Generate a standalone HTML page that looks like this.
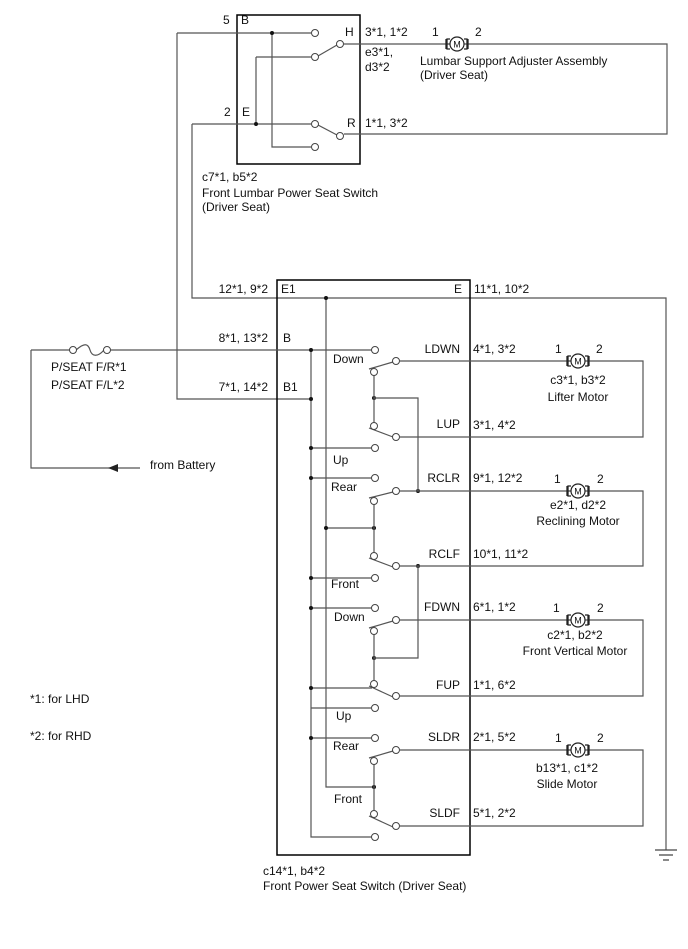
<!DOCTYPE html>
<html><head><style>
html,body{margin:0;padding:0;background:#fff;}
svg{display:block;font-family:"Liberation Sans",sans-serif;font-size:12px;}
.w{stroke:#555;stroke-width:1.2;fill:none;}
.b{stroke:#000;stroke-width:1.5;fill:none;}
.c{stroke:#444;stroke-width:1;fill:#fff;}
text{fill:#111;dominant-baseline:middle;}
.d{fill:#111;}
</style></head><body>
<svg width="688" height="949" viewBox="0 0 688 949">
<defs>
<g id="mot">
<line class="w" x1="-11" y1="0" x2="-7" y2="0"/>
<path d="M-7,-5 h-3 v10 h3 M-11,-5 v10 M7,-5 h3 v10 h-3 M11,-5 v10" stroke="#222" stroke-width="1.3" fill="none"/>
<circle cx="0" cy="0" r="7" fill="#fff" stroke="#222" stroke-width="1.2"/>
</g>
</defs>

<rect class="b" x="237" y="15" width="123" height="149"/>
<path class="w" d="M177,33 H311 M272,33 V147 H311 M256,57 H311 M256,57 V124 M192,124 H311"/>
<path class="w" d="M177,33 V399 H311 M192,124 V298 H666 V850"/>
<path class="w" d="M318,56 L337,45 M318,125 L337,135"/>
<path class="w" d="M344,44 H667 V134 H344"/>
<circle class="c" cx="315" cy="33" r="3.5"/><circle class="c" cx="315" cy="57" r="3.5"/>
<circle class="c" cx="340" cy="44" r="3.5"/><circle class="c" cx="315" cy="124" r="3.5"/>
<circle class="c" cx="340" cy="136" r="3.5"/><circle class="c" cx="315" cy="147" r="3.5"/>
<circle class="d" cx="272" cy="33" r="2"/><circle class="d" cx="256" cy="124" r="2"/>
<use href="#mot" x="457" y="44"/><text x="457" y="45" text-anchor="middle" font-size="9">M</text>
<text x="223" y="21">5</text><text x="241" y="21">B</text>
<text x="345" y="33">H</text><text x="365" y="33">3*1, 1*2</text>
<text x="365" y="53">e3*1,</text><text x="365" y="68">d3*2</text>
<text x="432" y="33">1</text><text x="475" y="33">2</text>
<text x="420" y="62">Lumbar Support Adjuster Assembly</text>
<text x="420" y="76">(Driver Seat)</text>
<text x="224" y="113">2</text><text x="242" y="113">E</text>
<text x="347" y="124">R</text><text x="365" y="124">1*1, 3*2</text>
<text x="202" y="178">c7*1, b5*2</text>
<text x="202" y="194">Front Lumbar Power Seat Switch</text>
<text x="202" y="208">(Driver Seat)</text>

<rect class="b" x="277" y="280" width="193" height="575"/>
<text x="268" y="290" text-anchor="end">12*1, 9*2</text><text x="281" y="290">E1</text>
<text x="454" y="290">E</text><text x="474" y="290">11*1, 10*2</text>
<text x="268" y="339" text-anchor="end">8*1, 13*2</text><text x="283" y="339">B</text>
<text x="268" y="388" text-anchor="end">7*1, 14*2</text><text x="283" y="388">B1</text>

<path class="w" d="M31,350 H70 M110,350 H372 M31,350 V468 H140"/>
<path class="w" d="M76,350 C84,343 88,343 90,350 S98,357 104,350"/>
<circle class="c" cx="73" cy="350" r="3.5"/><circle class="c" cx="107" cy="350" r="3.5"/>
<path d="M108,468 L118,464 L118,472 Z" fill="#222"/>
<text x="51" y="368">P/SEAT F/R*1</text><text x="51" y="386">P/SEAT F/L*2</text>
<text x="150" y="466">from Battery</text>

<path class="w" d="M326,298 V787 H374 M326,528 H374 M311,350 V837 H372"/>
<path class="w" d="M311,448 H372 M311,478 H372 M311,578 H372 M311,608 H372 M311,688 H372 M311,738 H372"/>
<g class="d">
<circle cx="326" cy="298" r="2"/><circle cx="311" cy="350" r="2"/><circle cx="311" cy="399" r="2"/>
<circle cx="311" cy="448" r="2"/><circle cx="311" cy="478" r="2"/><circle cx="311" cy="578" r="2"/>
<circle cx="311" cy="608" r="2"/><circle cx="311" cy="688" r="2"/><circle cx="311" cy="738" r="2"/>
<circle cx="326" cy="528" r="2"/><circle cx="374" cy="528" r="2"/><circle cx="374" cy="787" r="2"/>
<circle cx="374" cy="398" r="2"/><circle cx="418" cy="491" r="2"/><circle cx="418" cy="566" r="2"/>
<circle cx="374" cy="658" r="2"/>
</g>
<path class="w" d="M374,372 V426 M374,398 H418 V491 M374,501 V556 M418,566 V658 H374 M374,631 V684 M374,761 V814"/>
<path class="w" d="M369,369 L393,362 M369,428 L393,437 M369,498 L393,492 M369,558 L393,567 M369,628 L393,621 M369,686 L393,697 M369,758 L393,751 M369,816 L393,827"/>
<path class="w" d="M400,361 H643 V437 H400 M400,491 H643 V566 H400 M400,620 H643 V696 H400 M400,750 H643 V826 H400"/>
<g>
<circle class="c" cx="375" cy="350" r="3.5"/><circle class="c" cx="396" cy="361" r="3.5"/><circle class="c" cx="374" cy="372" r="3.5"/>
<circle class="c" cx="374" cy="426" r="3.5"/><circle class="c" cx="396" cy="437" r="3.5"/>
<circle class="c" cx="375" cy="448" r="3.5"/><circle class="c" cx="375" cy="478" r="3.5"/>
<circle class="c" cx="396" cy="491" r="3.5"/><circle class="c" cx="374" cy="501" r="3.5"/>
<circle class="c" cx="374" cy="556" r="3.5"/><circle class="c" cx="396" cy="566" r="3.5"/>
<circle class="c" cx="375" cy="578" r="3.5"/><circle class="c" cx="375" cy="608" r="3.5"/>
<circle class="c" cx="396" cy="620" r="3.5"/><circle class="c" cx="374" cy="631" r="3.5"/>
<circle class="c" cx="374" cy="684" r="3.5"/><circle class="c" cx="396" cy="696" r="3.5"/>
<circle class="c" cx="375" cy="708" r="3.5"/><circle class="c" cx="375" cy="738" r="3.5"/>
<circle class="c" cx="396" cy="750" r="3.5"/><circle class="c" cx="374" cy="761" r="3.5"/>
<circle class="c" cx="374" cy="814" r="3.5"/><circle class="c" cx="396" cy="826" r="3.5"/>
<circle class="c" cx="375" cy="837" r="3.5"/>
</g>
<path class="w" d="M311,708 H372"/>
<text x="333" y="360">Down</text><text x="333" y="461">Up</text><text x="331" y="488">Rear</text>
<text x="331" y="585">Front</text><text x="334" y="618">Down</text><text x="336" y="717">Up</text>
<text x="333" y="747">Rear</text><text x="334" y="800">Front</text>
<text x="460" y="350" text-anchor="end">LDWN</text><text x="473" y="350">4*1, 3*2</text>
<text x="460" y="425" text-anchor="end">LUP</text><text x="473" y="426">3*1, 4*2</text>
<text x="460" y="479" text-anchor="end">RCLR</text><text x="473" y="479">9*1, 12*2</text>
<text x="460" y="555" text-anchor="end">RCLF</text><text x="473" y="555">10*1, 11*2</text>
<text x="460" y="608" text-anchor="end">FDWN</text><text x="473" y="608">6*1, 1*2</text>
<text x="460" y="686" text-anchor="end">FUP</text><text x="473" y="686">1*1, 6*2</text>
<text x="460" y="738" text-anchor="end">SLDR</text><text x="473" y="738">2*1, 5*2</text>
<text x="460" y="814" text-anchor="end">SLDF</text><text x="473" y="814">5*1, 2*2</text>

<use href="#mot" x="578" y="361"/><text x="578" y="362" text-anchor="middle" font-size="9">M</text>
<text x="555" y="350">1</text><text x="596" y="350">2</text>
<text x="578" y="381" text-anchor="middle">c3*1, b3*2</text><text x="578" y="398" text-anchor="middle">Lifter Motor</text>
<use href="#mot" x="578" y="491"/><text x="578" y="492" text-anchor="middle" font-size="9">M</text>
<text x="554" y="480">1</text><text x="597" y="480">2</text>
<text x="578" y="506" text-anchor="middle">e2*1, d2*2</text><text x="578" y="522" text-anchor="middle">Reclining Motor</text>
<use href="#mot" x="578" y="620"/><text x="578" y="621" text-anchor="middle" font-size="9">M</text>
<text x="553" y="609">1</text><text x="597" y="609">2</text>
<text x="575" y="636" text-anchor="middle">c2*1, b2*2</text><text x="575" y="652" text-anchor="middle">Front Vertical Motor</text>
<use href="#mot" x="578" y="750"/><text x="578" y="751" text-anchor="middle" font-size="9">M</text>
<text x="555" y="739">1</text><text x="597" y="739">2</text>
<text x="567" y="769" text-anchor="middle">b13*1, c1*2</text><text x="567" y="785" text-anchor="middle">Slide Motor</text>

<path d="M655,850 H677 M659,855 H673 M663,860 H669" stroke="#444" stroke-width="1.2"/>

<text x="30" y="700">*1: for LHD</text>
<text x="30" y="737">*2: for RHD</text>
<text x="263" y="872">c14*1, b4*2</text>
<text x="263" y="887">Front Power Seat Switch (Driver Seat)</text>
</svg>
</body></html>
